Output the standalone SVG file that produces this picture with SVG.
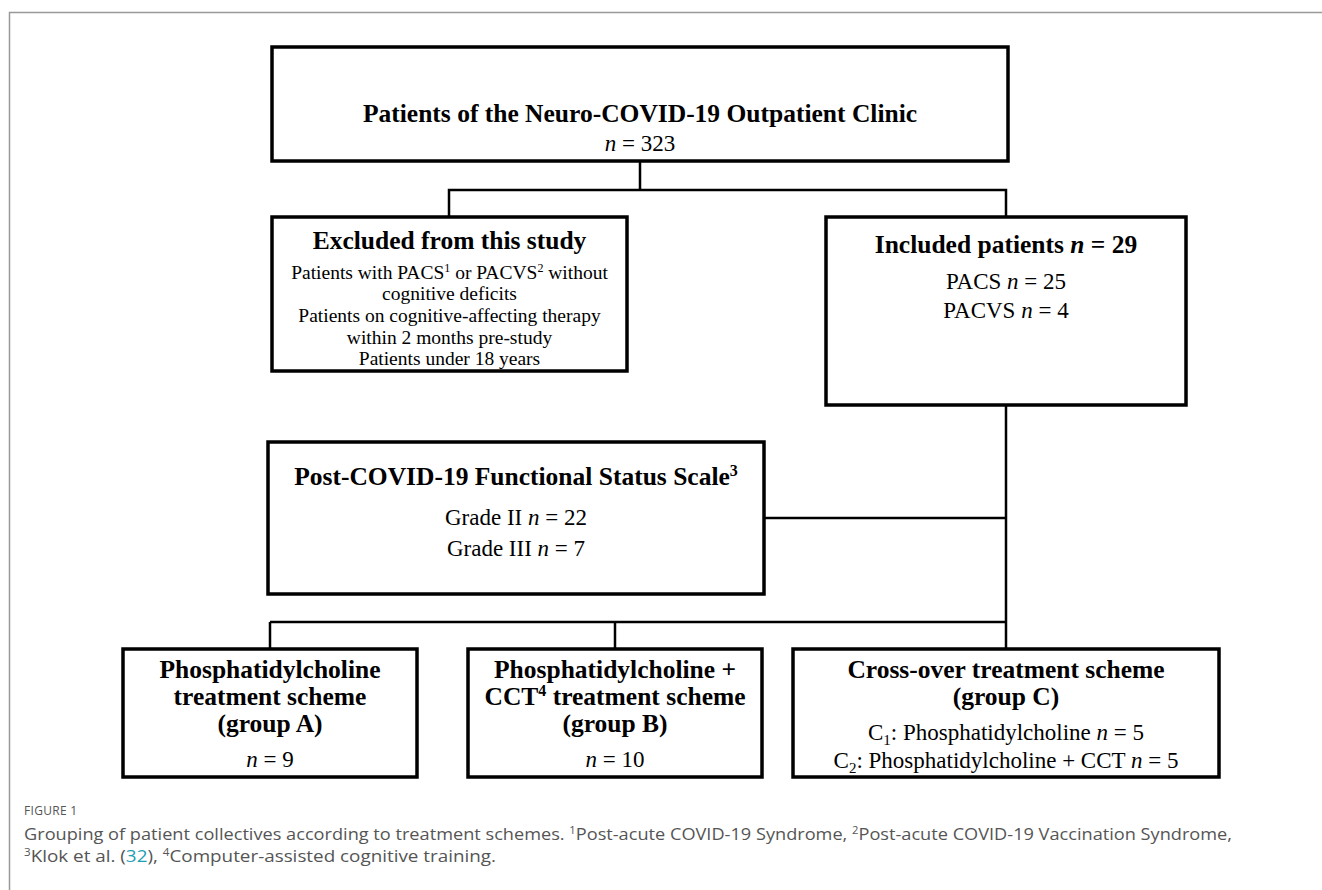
<svg xmlns="http://www.w3.org/2000/svg" width="1322" height="890" viewBox="0 0 1322 890">
<style>
.box{fill:#fff;stroke:#000;stroke-width:3.5}
.con{fill:none;stroke:#000;stroke-width:2.5}
.t{font-family:"Liberation Serif","Times New Roman",serif;fill:#000;text-anchor:middle}
.b{font-weight:bold;font-size:25.5px}
.r{font-size:23px}
.s{font-size:19.5px}
.cap{font-family:"Open Sans","Liberation Sans",sans-serif;fill:#555}
</style>
<rect x="0" y="0" width="1322" height="890" fill="#fff"/>
<path d="M9.5 890 V12.5 H1322" fill="none" stroke="#999" stroke-width="1.5"/>
<g id="connectors">
<path class="con" d="M640 161 V190 M449 217 V190 H1006 V217"/>
<path class="con" d="M1006 405 V622 M764 518 H1006 M270 622 H1006 M270 622 V649 M615 622 V649 M1006 622 V649"/>
</g>
<g id="top">
<rect class="box" x="272" y="47" width="736" height="114"/>
<text class="t b" x="640" y="121.5">Patients of the Neuro-COVID-19 Outpatient Clinic</text>
<text class="t r" x="640" y="151"><tspan font-style="italic">n</tspan> = 323</text>
</g>
<g id="excluded">
<rect class="box" x="272" y="217" width="355" height="154"/>
<text class="t b" x="449.5" y="249">Excluded from this study</text>
<text class="t s" x="449.5" y="278.5">Patients with PACS<tspan font-size="12" dy="-7">1</tspan><tspan dy="7"> or PACVS</tspan><tspan font-size="12" dy="-7">2</tspan><tspan dy="7"> without</tspan></text>
<text class="t s" x="449.5" y="300.2">cognitive deficits</text>
<text class="t s" x="449.5" y="321.9">Patients on cognitive-affecting therapy</text>
<text class="t s" x="449.5" y="343.6">within 2 months pre-study</text>
<text class="t s" x="449.5" y="365.3">Patients under 18 years</text>
</g>
<g id="included">
<rect class="box" x="826" y="217" width="360" height="188"/>
<text class="t b" x="1006" y="252.5">Included patients <tspan font-style="italic">n</tspan> = 29</text>
<text class="t r" x="1006" y="289">PACS <tspan font-style="italic">n</tspan> = 25</text>
<text class="t r" x="1006" y="318">PACVS <tspan font-style="italic">n</tspan> = 4</text>
</g>
<g id="fss">
<rect class="box" x="268" y="442" width="496" height="152"/>
<text class="t b" x="516" y="484.5">Post-COVID-19 Functional Status Scale<tspan font-size="16" dy="-9">3</tspan></text>
<text class="t r" x="516" y="525">Grade II <tspan font-style="italic">n</tspan> = 22</text>
<text class="t r" x="516" y="556">Grade III <tspan font-style="italic">n</tspan> = 7</text>
</g>
<g id="groupA">
<rect class="box" x="123" y="649" width="294" height="128"/>
<text class="t b" x="270" y="677.5">Phosphatidylcholine</text>
<text class="t b" x="270" y="704.5">treatment scheme</text>
<text class="t b" x="270" y="731.5">(group A)</text>
<text class="t r" x="270" y="767"><tspan font-style="italic">n</tspan> = 9</text>
</g>
<g id="groupB">
<rect class="box" x="468" y="649" width="294" height="128"/>
<text class="t b" x="615" y="677.5">Phosphatidylcholine +</text>
<text class="t b" x="615" y="704.5">CCT<tspan font-size="16" dy="-9">4</tspan><tspan dy="9"> treatment scheme</tspan></text>
<text class="t b" x="615" y="731.5">(group B)</text>
<text class="t r" x="615" y="767"><tspan font-style="italic">n</tspan> = 10</text>
</g>
<g id="groupC">
<rect class="box" x="793" y="649" width="426" height="128"/>
<text class="t b" x="1006" y="677.5">Cross-over treatment scheme</text>
<text class="t b" x="1006" y="704.5">(group C)</text>
<text class="t r" x="1006" y="740">C<tspan font-size="15" dy="5">1</tspan><tspan dy="-5">: Phosphatidylcholine </tspan><tspan font-style="italic">n</tspan> = 5</text>
<text class="t r" x="1006" y="768">C<tspan font-size="15" dy="5">2</tspan><tspan dy="-5">: Phosphatidylcholine + CCT </tspan><tspan font-style="italic">n</tspan> = 5</text>
</g>
<g id="caption">
<text class="cap" x="24" y="815" font-size="12" letter-spacing="0.3">FIGURE 1</text>
<text class="cap" x="24" y="840" font-size="17" textLength="1208" lengthAdjust="spacingAndGlyphs">Grouping of patient collectives according to treatment schemes. <tspan font-size="10.5" dy="-6">1</tspan><tspan dy="6">Post-acute COVID-19 Syndrome, </tspan><tspan font-size="10.5" dy="-6">2</tspan><tspan dy="6">Post-acute COVID-19 Vaccination Syndrome,</tspan></text>
<text class="cap" x="24" y="862" font-size="17" textLength="472" lengthAdjust="spacingAndGlyphs"><tspan font-size="10.5" dy="-6">3</tspan><tspan dy="6">Klok et al. (</tspan><tspan fill="#1ba0b4">32</tspan>), <tspan font-size="10.5" dy="-6">4</tspan><tspan dy="6">Computer-assisted cognitive training.</tspan></text>
</g>
</svg>
